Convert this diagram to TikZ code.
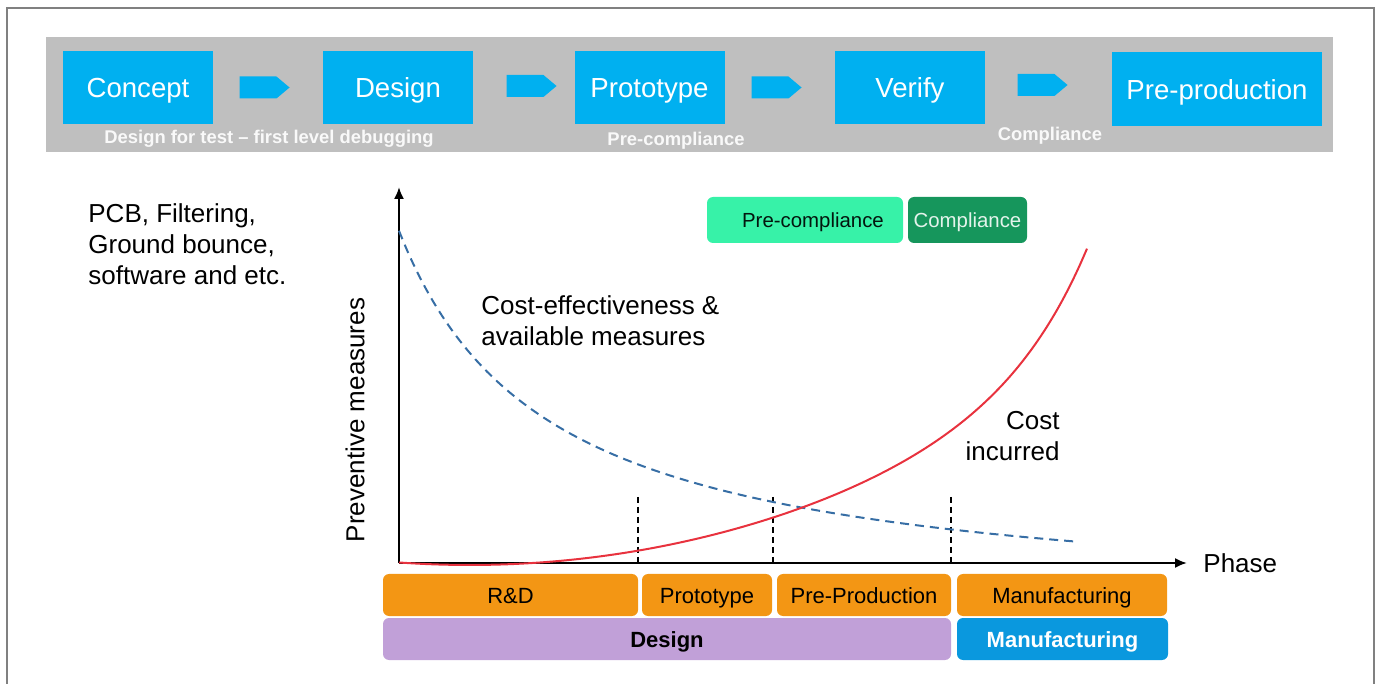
\documentclass[tikz,border=0pt]{standalone}
\usepackage{fontspec}
\setmainfont{Liberation Sans}
\usetikzlibrary{shapes.symbols, arrows.meta}

\definecolor{stageblue}{RGB}{0,176,240}
\definecolor{bargray}{RGB}{191,191,191}
\definecolor{framegray}{RGB}{128,128,128}
\definecolor{phaseorange}{RGB}{243,150,20}
\definecolor{designlilac}{RGB}{193,160,216}
\definecolor{mfgblue}{RGB}{10,152,222}
\definecolor{precomp}{RGB}{55,242,168}
\definecolor{comp}{RGB}{22,150,92}
\definecolor{costred}{RGB}{232,50,62}
\definecolor{effblue}{RGB}{55,110,165}

\tikzset{
    stage/.style={ fill=stageblue, text=white, inner sep=0pt, minimum width=75pt, minimum height=36.5pt, text height=12.9pt, text depth=2.9pt, font=\fontsize{13.8pt}{16pt}\selectfont},
    flow/.style={ signal, signal to=east, signal pointer angle=80, fill=stageblue, inner sep=0pt, minimum width=25pt, minimum height=11pt},
    sublabel/.style={ text=white!95!gray, inner sep=0pt, text height=9.6pt, text depth=1.95pt, font=\bfseries\fontsize{9.2pt}{11pt}\selectfont},
    txt/.style={ inner sep=0pt, font=\fontsize{13pt}{15.5pt}\selectfont},
    phasebox/.style={ rounded corners=3pt, inner sep=0pt, minimum height=21pt, text height=10.6pt, text depth=2.3pt, font=\fontsize{11pt}{13pt}\selectfont},
    legendbox/.style={ rounded corners=3pt, inner sep=0pt, minimum height=23pt, text height=9.3pt, text depth=2.15pt, font=\fontsize{10.2pt}{12pt}\selectfont},
    axis/.style={ -{Latex[length=6pt,width=5pt]}, line width=1pt},
    phasecut/.style={ line width=0.7pt, dash pattern=on 3pt off 2pt},
    %Define style for curves
  }

\begin{document}
\begin{tikzpicture}[x=0.5pt, y=-0.5pt]

\useasboundingbox (0,0) rectangle (1378,684);
\draw[framegray, line width=1pt] (6.5,684) -- (6.5,8) -- (1374,8) -- (1374,684);

% stage bar
\fill[bargray] (46,37) rectangle (1333,152);

  \node[stage] (concept) at (138,87.5)  {Concept};
  \node[stage] (design)  at (398,87.5)  {Design};
  \node[stage] (proto)   at (649.5,87.5) {Prototype};
  \node[stage] (verify)  at (910,87.5)  {Verify};
  \node[stage, minimum width=105pt, minimum height=37pt] (preprod) at (1217,89.5) {Pre-production};

   \node[flow] (f1) at (258,87.5) {};
   \node[flow] (f2) at (525,86)   {};
   \node[flow] (f3) at (770,87.5) {};
   \node[flow] (f4) at (1036,85)  {};

   \node[sublabel] (dft)   at (269,136)  {Design for test -- first level debugging};
   \node[sublabel] (pcomp) at (676,138)  {Pre-compliance};
   \node[sublabel] (fcomp) at (1050,133) {Compliance};

% left note
   \node[txt, anchor=west, align=left] (pcb) at (88,244) {PCB, Filtering,\\Ground bounce,\\software and etc.};

% legend
   \node[legendbox, fill=precomp, text=black!85!comp, minimum width=98pt] (leg1) at (805,220) {\hspace{8pt}Pre-compliance};
   \node[legendbox, fill=comp, text=white!88!comp, minimum width=59.5pt] (leg2) at (967.5,220) {Compliance};

% axes
   \coordinate (orig) at (399,563);
   \coordinate (ytop) at (399,187);
   \coordinate (xend) at (1187,563);
   \draw[axis] (orig) -- (ytop);
   \draw[axis] (orig) -- (xend);
   \node[txt, anchor=west] (phase) at (1203,563) {Phase};
   \node[txt, rotate=90] (ylab) at (355,420) {Preventive measures};

% phase borders
   \foreach \px in {638,773,951}
      \draw[phasecut] (\px,497) -- (\px,563);

% cost-effectiveness (dashed) and cost incurred
   \draw[effblue, line width=1pt, dash pattern=on 4.5pt off 3pt] plot[domain=399:1078, samples=80, smooth] (\x, {610 - 565/((\x-250)/100)});
   \draw[costred, line width=1pt] plot[domain=399:1087, samples=90, smooth] (\x, {565 - 5*((\x-470)/100)^2 - 126*exp(0.014*(\x-1087))});

   \node[txt, anchor=west, align=left] (effect) at (481,321) {Cost-effectiveness \&\\available measures};
   \node[txt, anchor=east, align=right] (incur) at (1060,436) {Cost\\incurred};

% phases below the axis
   \node[phasebox, fill=phaseorange, minimum width=127.5pt] (rnd)   at (510.5,595) {R\&D};
   \node[phasebox, fill=phaseorange, minimum width=65pt]    (pt)    at (707,595)   {Prototype};
   \node[phasebox, fill=phaseorange, minimum width=87pt]    (pp)    at (864,595)   {Pre-Production};
   \node[phasebox, fill=phaseorange, minimum width=105pt]   (manu)  at (1062,595)  {Manufacturing};
   \node[phasebox, fill=designlilac, font=\bfseries\fontsize{11pt}{13pt}\selectfont, minimum width=284pt] (dsgn) at (667,639) {Design};
   \node[phasebox, fill=mfgblue, text=white, font=\bfseries\fontsize{11pt}{13pt}\selectfont, minimum width=105.5pt] (manu2) at (1062.5,639) {Manufacturing};

\end{tikzpicture}
\end{document}
